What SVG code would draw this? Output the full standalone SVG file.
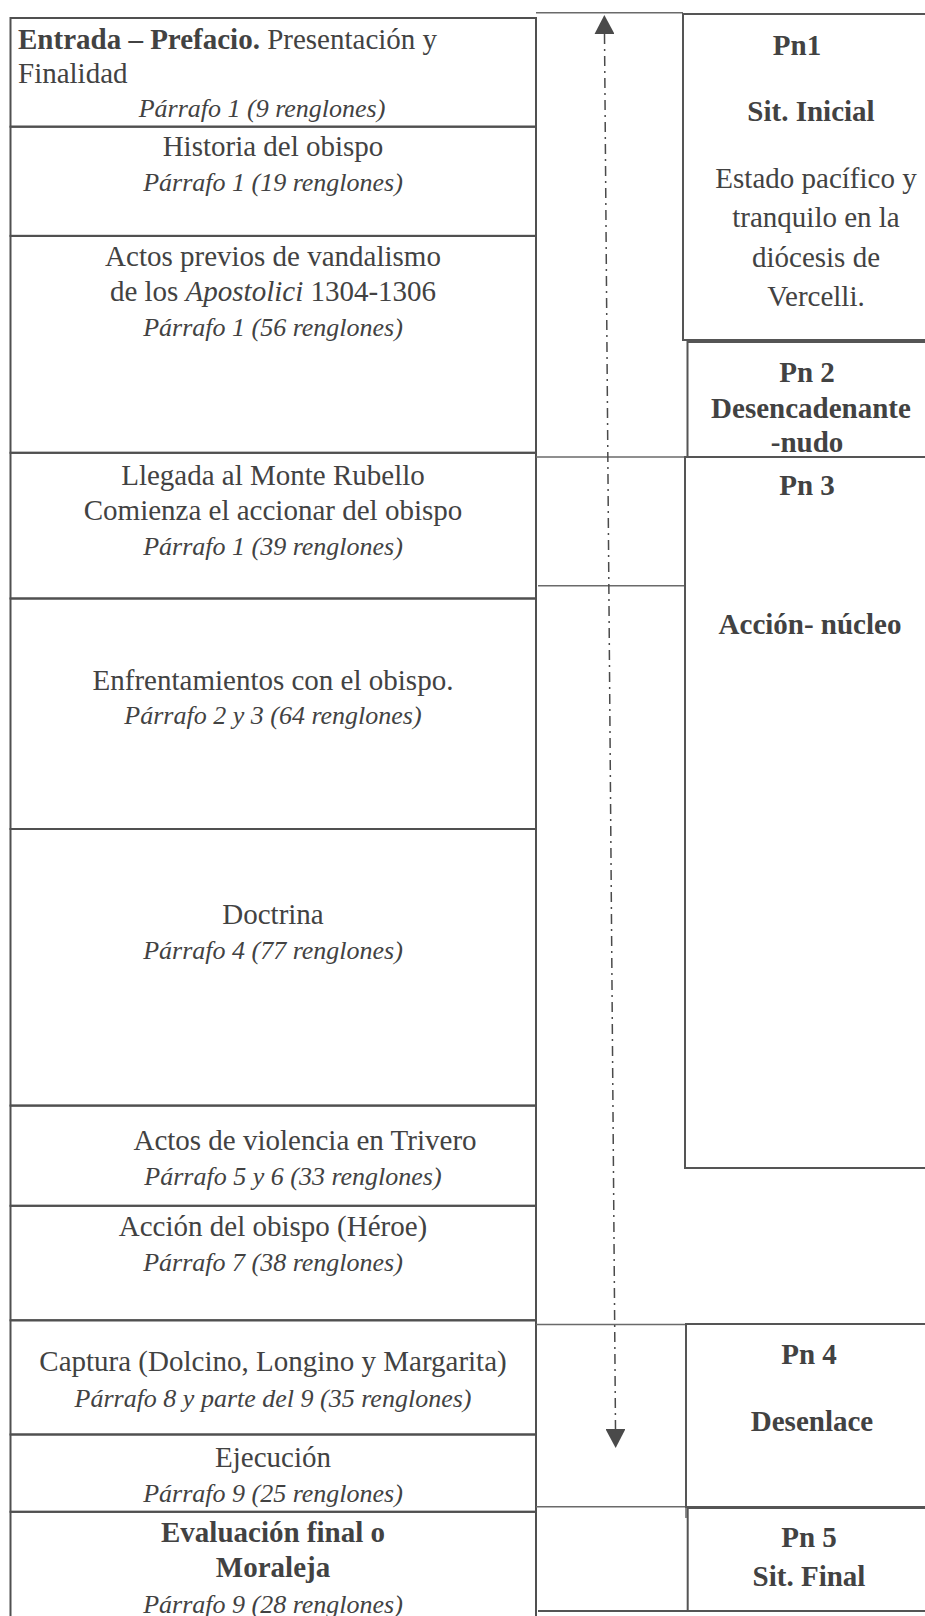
<svg xmlns="http://www.w3.org/2000/svg" width="925" height="1616" viewBox="0 0 925 1616">
<defs>
<style>
text{font-family:"Liberation Serif","Times New Roman",serif;fill:#424242;font-size:29px;text-anchor:middle}
.i{font-style:italic;font-size:26px}
.b{font-weight:bold}
.st{text-anchor:start}
.cell{fill:none;stroke:#505050;stroke-width:2}
.pn{fill:none;stroke:#555;stroke-width:2}
.thin{stroke:#6a6a6a;stroke-width:1.5;fill:none}
.axis{stroke:#4a4a4a;stroke-width:1.5;fill:none;stroke-dasharray:10 5 2 5}
</style>
<marker id="tri" markerUnits="userSpaceOnUse" viewBox="0 0 19 20" markerWidth="19" markerHeight="20" refX="0" refY="10" orient="auto-start-reverse">
<path d="M0,0 L19,10 L0,20 z" fill="#4a4a4a"/>
</marker>
</defs>
<rect width="925" height="1616" fill="#ffffff"/>

<g id="row-entrada">
<rect class="cell" x="10.5" y="18" width="525.5" height="108.7"/>
<text class="st" x="18" y="49"><tspan class="b">Entrada – Prefacio.</tspan> Presentación y</text>
<text class="st" x="18" y="83">Finalidad</text>
<text class="i" x="262" y="117">Párrafo 1 (9 renglones)</text>
</g>
<g id="row-historia">
<rect class="cell" x="10.5" y="126.7" width="525.5" height="109.2"/>
<text x="273" y="156">Historia del obispo</text>
<text class="i" x="273" y="191">Párrafo 1 (19 renglones)</text>
</g>
<g id="row-actos-previos">
<rect class="cell" x="10.5" y="235.9" width="525.5" height="216.9"/>
<text x="273" y="266">Actos previos de vandalismo</text>
<text x="273" y="301">de los <tspan font-style="italic">Apostolici</tspan> 1304-1306</text>
<text class="i" x="273" y="336">Párrafo 1 (56 renglones)</text>
</g>
<g id="row-llegada">
<rect class="cell" x="10.5" y="452.8" width="525.5" height="145.7"/>
<text x="273" y="485">Llegada al Monte Rubello</text>
<text x="273" y="520">Comienza el accionar del obispo</text>
<text class="i" x="273" y="555">Párrafo 1 (39 renglones)</text>
</g>
<g id="row-enfrentamientos">
<rect class="cell" x="10.5" y="598.5" width="525.5" height="230.5"/>
<text x="273" y="690">Enfrentamientos con el obispo.</text>
<text class="i" x="273" y="724">Párrafo 2 y 3 (64 renglones)</text>
</g>
<g id="row-doctrina">
<rect class="cell" x="10.5" y="829" width="525.5" height="276.6"/>
<text x="273" y="924">Doctrina</text>
<text class="i" x="273" y="959">Párrafo 4 (77 renglones)</text>
</g>
<g id="row-violencia">
<rect class="cell" x="10.5" y="1105.6" width="525.5" height="100.2"/>
<text x="305" y="1150">Actos de violencia en Trivero</text>
<text class="i" x="293" y="1185">Párrafo 5 y 6 (33 renglones)</text>
</g>
<g id="row-accion-obispo">
<rect class="cell" x="10.5" y="1205.8" width="525.5" height="114.5"/>
<text x="273" y="1236">Acción del obispo (Héroe)</text>
<text class="i" x="273" y="1271">Párrafo 7 (38 renglones)</text>
</g>
<g id="row-captura">
<rect class="cell" x="10.5" y="1320.3" width="525.5" height="114.2"/>
<text x="273" y="1371">Captura (Dolcino, Longino y Margarita)</text>
<text class="i" x="273" y="1407">Párrafo 8 y parte del 9 (35 renglones)</text>
</g>
<g id="row-ejecucion">
<rect class="cell" x="10.5" y="1434.5" width="525.5" height="77.3"/>
<text x="273" y="1467">Ejecución</text>
<text class="i" x="273" y="1502">Párrafo 9 (25 renglones)</text>
</g>
<g id="row-evaluacion">
<rect class="cell" x="10.5" y="1511.8" width="525.5" height="130"/>
<text class="b" x="273" y="1542">Evaluación final o</text>
<text class="b" x="273" y="1577">Moraleja</text>
<text class="i" x="273" y="1613">Párrafo 9 (28 renglones)</text>
</g>

<g id="middle-column">
<line class="thin" x1="536" y1="12.7" x2="683" y2="12.7"/>
<line class="thin" x1="536" y1="457" x2="686" y2="457"/>
<line class="thin" x1="538" y1="585.8" x2="684.5" y2="585.8"/>
<line class="thin" x1="536" y1="1324.5" x2="685" y2="1324.5"/>
<line class="thin" x1="536" y1="1506.7" x2="685" y2="1506.7"/>
<line class="pn" x1="538" y1="1611" x2="688" y2="1611"/>
<line class="thin" x1="686" y1="1500" x2="686" y2="1518"/>
</g>

<g id="pn1">
<rect class="pn" x="683" y="14" width="270" height="326"/>
<text class="b" x="797" y="55">Pn1</text>
<text class="b" x="811" y="121">Sit. Inicial</text>
<text x="816" y="188">Estado pacífico y</text>
<text x="816" y="227">tranquilo en la</text>
<text x="816" y="267">diócesis de</text>
<text x="816" y="306">Vercelli.</text>
</g>
<g id="pn2">
<rect class="pn" x="687.5" y="342" width="270" height="115"/>
<text class="b" x="807" y="382">Pn 2</text>
<text class="b" x="811" y="418">Desencadenante</text>
<text class="b" x="807" y="452">-nudo</text>
</g>
<g id="pn3">
<rect class="pn" x="685" y="457" width="270" height="711"/>
<text class="b" x="807" y="495">Pn 3</text>
<text class="b" x="810" y="634">Acción- núcleo</text>
</g>
<g id="pn4">
<rect class="pn" x="686" y="1324" width="270" height="183"/>
<text class="b" x="809" y="1364">Pn 4</text>
<text class="b" x="812" y="1431">Desenlace</text>
</g>
<g id="pn5">
<rect class="pn" x="687.7" y="1508" width="270" height="103"/>
<text class="b" x="809" y="1547">Pn 5</text>
<text class="b" x="809" y="1586">Sit. Final</text>
</g>

<g id="connectors">
<line class="axis" x1="604.5" y1="34" x2="615.5" y2="1429" marker-start="url(#tri)" marker-end="url(#tri)"/>
</g>
</svg>
